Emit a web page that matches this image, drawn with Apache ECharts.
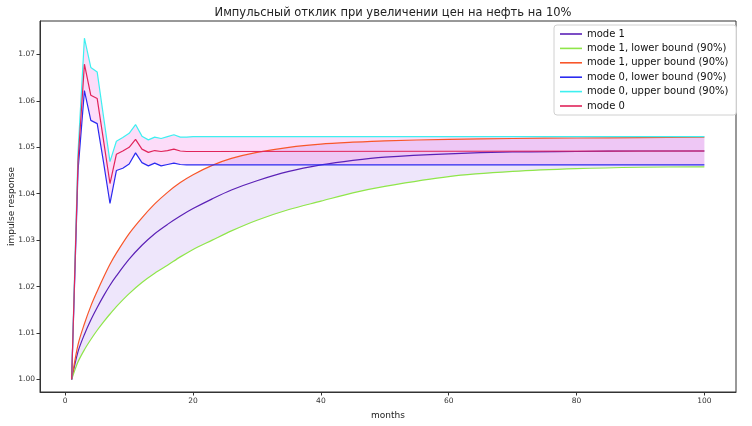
<!DOCTYPE html>
<html>
<head>
<meta charset="utf-8">
<script src="https://cdn.jsdelivr.net/npm/echarts@6/dist/echarts.min.js"></script>
<style>
html,body{margin:0;padding:0;background:#fff;}
#chart{width:752px;height:426px;}
</style>
</head>
<body>
<div id="chart"></div>
<script>
// ---- data ----
const titleText = 'Импульсный отклик при увеличении цен на нефть на 10%';
const xTicks = [0, 20, 40, 60, 80, 100];
const yTicks = [1.00, 1.01, 1.02, 1.03, 1.04, 1.05, 1.06, 1.07];

const months1 = [1,2,3,4,5,6,7,8,10,12,14,16,18,20,23,26,30,35,40,45,50,60,70,80,90,100];
const mode1      = [1.0000,1.0060,1.0097,1.0128,1.0155,1.0180,1.0203,1.0223,1.0259,1.0289,1.0314,1.0334,1.0352,1.0368,1.0389,1.0408,1.0428,1.0448,1.0462,1.0472,1.0479,1.0486,1.0490,1.0491,1.0492,1.0492];
const mode1Lower = [1.0000,1.0038,1.0064,1.0086,1.0106,1.0124,1.0141,1.0157,1.0185,1.0209,1.0229,1.0246,1.0264,1.0280,1.0300,1.0320,1.0343,1.0366,1.0384,1.0402,1.0416,1.0437,1.0448,1.0454,1.0457,1.0458];
const mode1Upper = [1.0000,1.0075,1.0120,1.0158,1.0190,1.0220,1.0248,1.0272,1.0314,1.0348,1.0378,1.0403,1.0424,1.0441,1.0461,1.0476,1.0489,1.0500,1.0507,1.0511,1.0514,1.0517,1.0519,1.0520,1.0521,1.0522];

const months0 = [1,2,3,4,5,6,7,8,9,10,11,12,13,14,15,16,17,18,19,20,100];
const mode0      = [1.0000,1.0470,1.0679,1.0612,1.0605,1.0514,1.0422,1.0485,1.0492,1.0500,1.0517,1.0496,1.0489,1.0493,1.0491,1.0493,1.0496,1.0492,1.0491,1.0491,1.0492];
const mode0Lower = [1.0000,1.0450,1.0622,1.0558,1.0551,1.0467,1.0379,1.0450,1.0455,1.0464,1.0488,1.0467,1.0460,1.0466,1.0460,1.0463,1.0466,1.0463,1.0462,1.0462,1.0462];
const mode0Upper = [1.0000,1.0490,1.0735,1.0672,1.0662,1.0565,1.0469,1.0513,1.0521,1.0530,1.0549,1.0524,1.0516,1.0522,1.0519,1.0523,1.0527,1.0522,1.0522,1.0523,1.0523];

const names = ['mode 1','mode 1, lower bound (90%)','mode 1, upper bound (90%)','mode 0, lower bound (90%)','mode 0, upper bound (90%)','mode 0'];
const colors = ['#5b21b6','#8fe64a','#f8562a','#2b2bf0','#3ef0f0','#e0245a'];

// ---- build ----
const pairs = (xs, ys) => xs.map((x, i) => [x, ys[i]]);
const FONT = 'DejaVu Sans';

function lineSeries(name, xs, ys, color, smooth) {
  return {
    name, type: 'line', data: pairs(xs, ys), symbol: 'none', showSymbol: false,
    smooth: smooth ? 0.3 : false,
    lineStyle: { color, width: 1.2 }, itemStyle: { color }, z: 5, animation: false
  };
}
function band(xs, lo, hi, fill) {
  return {
    type: 'custom', silent: true, z: 1, animation: false, clip: true,
    data: [[xs[0], lo[0]]],
    renderItem: (params, api) => {
      const pts = [];
      for (let i = 0; i < xs.length; i++) pts.push(api.coord([xs[i], lo[i]]));
      for (let i = xs.length - 1; i >= 0; i--) pts.push(api.coord([xs[i], hi[i]]));
      return { type: 'polygon', shape: { points: pts }, style: { fill: fill, stroke: null } };
    }
  };
}

const chart = echarts.init(document.getElementById('chart'), null, { renderer: 'canvas' });
chart.setOption({
  backgroundColor: '#fff',
  animation: false,
  textStyle: { fontFamily: FONT },
  title: {
    text: titleText, left: 388, top: 2, textAlign: 'center',
    textStyle: { fontFamily: FONT, fontSize: 11.5, fontWeight: 'normal', color: '#222' }
  },
  grid: { left: 40, right: 16, top: 21, bottom: 34, show: true, borderColor: '#333', borderWidth: 1,
    containLabel: false, outerBoundsMode: 'none' },
  legend: {
    orient: 'vertical', left: 554, top: 25, data: names,
    icon: 'rect', itemWidth: 22, itemHeight: 1.6, itemGap: 4.4,
    backgroundColor: 'rgba(255,255,255,0.85)', borderColor: '#d0d0d0', borderWidth: 1, borderRadius: 3,
    padding: [4, 8, 4, 6],
    textStyle: { fontFamily: FONT, fontSize: 10, color: '#111' }
  },
  xAxis: {
    type: 'value', min: -3.95, max: 104.95,
    name: 'months', nameLocation: 'middle', nameGap: 19, nameMoveOverlap: false,
    nameTextStyle: { fontFamily: FONT, fontSize: 9, color: '#222' },
    axisLine: { show: true, onZero: false, lineStyle: { color: '#333', width: 1 } },
    axisTick: { show: true, length: 3.5, customValues: xTicks, lineStyle: { color: '#333' } },
    axisLabel: { customValues: xTicks, fontFamily: FONT, fontSize: 7.5, color: '#333', margin: 5 },
    splitLine: { show: false }
  },
  yAxis: {
    type: 'value', min: 0.9973, max: 1.0772,
    name: 'impulse response', nameLocation: 'middle', nameGap: 24, nameMoveOverlap: false,
    nameTextStyle: { fontFamily: FONT, fontSize: 9, color: '#222' },
    axisLine: { show: true, onZero: false, lineStyle: { color: '#333', width: 1 } },
    axisTick: { show: true, length: 3.5, customValues: yTicks, lineStyle: { color: '#333' } },
    axisLabel: { customValues: yTicks, fontFamily: FONT, fontSize: 7.5, color: '#333', margin: 5,
      formatter: v => v.toFixed(2) },
    splitLine: { show: false }
  },
  series: [
    band(months1, mode1Lower, mode1Upper, 'rgba(138,80,226,0.14)'),
    band(months0, mode0Lower, mode0Upper, 'rgba(238,60,220,0.18)'),
    lineSeries(names[0], months1, mode1, colors[0], true),
    lineSeries(names[1], months1, mode1Lower, colors[1], true),
    lineSeries(names[2], months1, mode1Upper, colors[2], true),
    lineSeries(names[3], months0, mode0Lower, colors[3], false),
    lineSeries(names[4], months0, mode0Upper, colors[4], false),
    lineSeries(names[5], months0, mode0, colors[5], false)
  ]
});
</script>
</body>
</html>
